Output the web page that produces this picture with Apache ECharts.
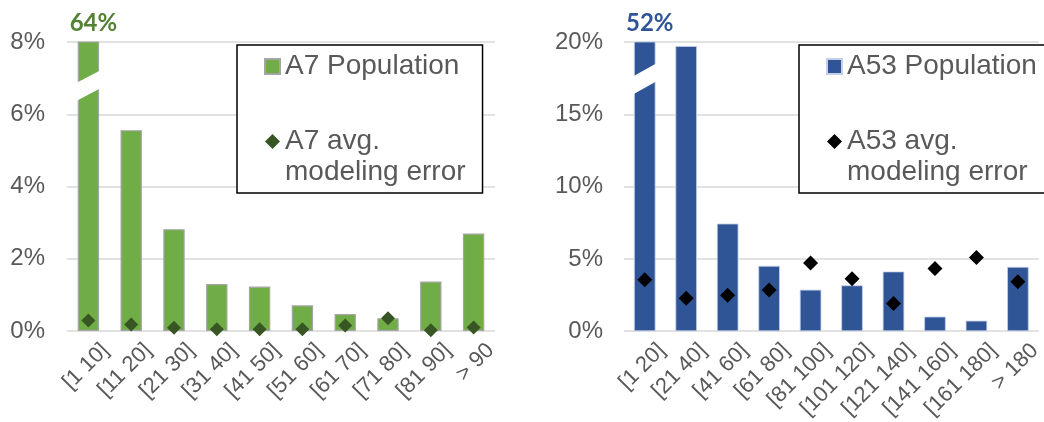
<!DOCTYPE html>
<html>
<head>
<meta charset="utf-8">
<script src="https://cdn.jsdelivr.net/npm/echarts@6/dist/echarts.min.js"></script>
<style>
html,body{margin:0;padding:0;background:#fff;}
#c{width:1044px;height:422px;}
</style>
</head>
<body>
<div id="c"></div>
<script>
// ---- data ----
const catsA7 = ['[1 10]','[11 20]','[21 30]','[31 40]','[41 50]','[51 60]','[61 70]','[71 80]','[81 90]','> 90'];
const popA7 = [64, 5.56, 2.82, 1.30, 1.23, 0.71, 0.47, 0.35, 1.37, 2.70];
const errA7 = [0.29, 0.18, 0.09, 0.05, 0.05, 0.05, 0.15, 0.35, 0.02, 0.10];
const ticksA7 = [0, 2, 4, 6, 8];

const catsA53 = ['[1 20]','[21 40]','[41 60]','[61 80]','[81 100]','[101 120]','[121 140]','[141 160]','[161 180]','> 180'];
const popA53 = [52, 19.72, 7.44, 4.52, 2.87, 3.17, 4.13, 1.01, 0.73, 4.45];
const errA53 = [3.56, 2.27, 2.48, 2.85, 4.71, 3.63, 1.91, 4.34, 5.10, 3.42];
const ticksA53 = [0, 5, 10, 15, 20];

const namesA7 = ['A7 Population', 'A7 avg. modeling error'];
const namesA53 = ['A53 Population', 'A53 avg. modeling error'];

// ---- styles ----
const GREEN = '#70AD47', DGREEN = '#375623', LGREEN = '#548235';
const BLUE = '#2F5597';
const TXT = '#595959';
const FONT = '"Liberation Sans", Arial, sans-serif';

const chart = echarts.init(document.getElementById('c'), null, {renderer: 'canvas'});

function yAxisFor(ticks, gi, margin) {
  return {
    type: 'value', gridIndex: gi,
    min: ticks[0], max: ticks[ticks.length - 1], interval: ticks[1] - ticks[0],
    axisLine: {show: false}, axisTick: {show: false},
    splitLine: {lineStyle: {color: '#D9D9D9', width: 1.5}},
    axisLabel: {formatter: '{value}%', color: TXT, fontSize: 24, fontFamily: FONT, margin: margin}
  };
}
function xAxisFor(cats, gi) {
  return {
    type: 'category', gridIndex: gi, data: cats,
    axisLine: {show: false}, axisTick: {show: false},
    axisLabel: {rotate: 45, color: TXT, fontSize: 22, fontFamily: FONT, margin: 33,
      interval: 0, padding: [0, -24, 0, 0]}
  };
}
// broken-bar decoration: white slanted band + real value label above axis top
function breakRenderer(ticks, breakVals, labelColor) {
  const yMax = ticks[ticks.length - 1];
  return function (params, api) {
    const idx = api.value(0);
    const top = api.coord([idx, yMax]);
    const bw = api.size([1, 0])[0] * 0.52;
    const x0 = top[0] - bw / 2 - 2, x1 = top[0] + bw / 2 + 2;
    const yl = api.coord([idx, breakVals[0]])[1];
    const yr = api.coord([idx, breakVals[1]])[1];
    const t = 9;
    return {
      type: 'group',
      children: [
        {type: 'polygon', shape: {points: [[x0, yl - t], [x1, yr - t], [x1, yr + t], [x0, yl + t]]},
          style: {fill: '#fff'}},
        {type: 'text', style: {text: api.value(1) + '%', x: top[0] + 5, y: top[1] - 19,
          align: 'center', verticalAlign: 'middle', fill: labelColor,
          font: 'bold 24px Lato, "Liberation Sans", sans-serif'}}
      ]
    };
  };
}
function legendFor(names, left, top) {
  return {
    orient: 'vertical', left: left, top: top,
    data: [
      {name: names[0], icon: 'rect'},
      {name: names[1], icon: 'diamond'}
    ],
    // second entry: an empty first line keeps the marker level with "avg." line
    formatter: function (n) { return n === names[1] ? '\n' + n.replace(' modeling', '\nmodeling') : n; },
    itemWidth: 15, itemHeight: 15, itemGap: 13,
    padding: [6, 17, 5, 27],
    backgroundColor: '#fff', borderColor: '#000', borderWidth: 1.5,
    textStyle: {color: TXT, fontSize: 28, lineHeight: 31, fontFamily: FONT},
    selectedMode: false
  };
}

chart.setOption({
  animation: false,
  backgroundColor: '#fff',
  grid: [
    {left: 67, top: 42, width: 428, height: 289},
    {left: 624, top: 42, width: 430, height: 290}
  ],
  xAxis: [xAxisFor(catsA7, 0), xAxisFor(catsA53, 1)],
  yAxis: [yAxisFor(ticksA7, 0, 22), yAxisFor(ticksA53, 1, 21)],
  legend: [legendFor(namesA7, 237, 45), legendFor(namesA53, 799, 45)],
  series: [
    {name: namesA7[0], type: 'bar', xAxisIndex: 0, yAxisIndex: 0, data: popA7, barWidth: '50%', clip: true,
      itemStyle: {color: GREEN, borderColor: '#A5A5A5', borderWidth: 1.2}},
    {type: 'custom', xAxisIndex: 0, yAxisIndex: 0, data: [[0, popA7[0]]], z: 3,
      renderItem: breakRenderer(ticksA7, [6.6, 6.98], LGREEN)},
    {name: namesA7[1], type: 'scatter', xAxisIndex: 0, yAxisIndex: 0, data: errA7, symbol: 'diamond',
      symbolSize: 14, z: 4, itemStyle: {color: DGREEN, opacity: 1}},
    {name: namesA53[0], type: 'bar', xAxisIndex: 1, yAxisIndex: 1, data: popA53, barWidth: '52%', clip: true,
      itemStyle: {color: BLUE, borderColor: '#C5D0E6', borderWidth: 0.8}},
    {type: 'custom', xAxisIndex: 1, yAxisIndex: 1, data: [[0, popA53[0]]], z: 3,
      renderItem: breakRenderer(ticksA53, [16.95, 17.95], BLUE)},
    {name: namesA53[1], type: 'scatter', xAxisIndex: 1, yAxisIndex: 1, data: errA53, symbol: 'diamond',
      symbolSize: 15, z: 4, itemStyle: {color: '#000', opacity: 1}}
  ]
});
</script>
</body>
</html>
